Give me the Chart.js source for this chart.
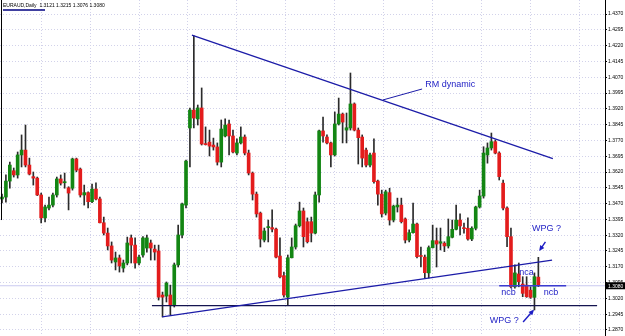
<!DOCTYPE html>
<html lang="en">
<head>
<meta charset="UTF-8">
<title>EURAUD,Daily</title>
<script src="https://cdn.jsdelivr.net/npm/chart.js"></script>
<style>
  html, body { margin: 0; padding: 0; background: #fff; }
  canvas { display: block; }
</style>
</head>
<body>
<canvas id="chart" width="625" height="336"></canvas>
<script>
// daily candles (index 0 = leftmost bar)
const opens = [1.3492,1.3501,1.3577,1.3626,1.3606,1.3701,1.3724,1.3653,1.3598,1.3591,
  1.3511,1.3402,1.3449,1.3463,1.3511,1.3587,1.3569,1.3545,1.3543,1.3682,
  1.3634,1.3511,1.3522,1.3479,1.3539,1.3492,1.3379,1.3330,1.3269,1.3193,
  1.3212,1.3164,1.3188,1.3307,1.3273,1.3188,1.3226,1.3259,1.3283,1.3254,
  1.3245,1.3036,1.3031,1.3036,1.2989,1.3179,1.3321,1.3463,1.3829,1.3914,
  1.3872,1.3924,1.3753,1.3762,1.3748,1.3739,1.3667,1.3791,1.3848,1.3791,
  1.3710,1.3758,1.3786,1.3710,1.3615,1.3515,1.3425,1.3297,1.3356,1.3356,
  1.3349,1.3221,1.3128,1.3026,1.3213,1.3264,1.3365,1.3435,1.3384,1.3384,
  1.3330,1.3511,1.3815,1.3786,1.3758,1.3701,1.3848,1.3895,1.3819,1.3829,
  1.3943,1.3819,1.3786,1.3724,1.3653,1.3710,1.3577,1.3515,1.3425,1.3522,
  1.3392,1.3454,1.3463,1.3397,1.3297,1.3332,1.3373,1.3221,1.3216,1.3141,
  1.3261,1.3294,1.3282,1.3282,1.3269,1.3310,1.3348,1.3392,1.3353,1.3353,
  1.3302,1.3353,1.3454,1.3506,1.3701,1.3734,1.3764,1.3710,1.3567,1.3449,
  1.3313,1.3075,1.3136,1.3088,1.3083,1.3059,1.3025,1.3121];
const highs = [1.3515,1.3606,1.3667,1.3639,1.3715,1.3796,1.3843,1.3686,1.3620,1.3596,
  1.3520,1.3463,1.3501,1.3520,1.3596,1.3606,1.3615,1.3550,1.3686,1.3686,
  1.3639,1.3558,1.3526,1.3563,1.3569,1.3501,1.3406,1.3354,1.3288,1.3240,
  1.3226,1.3202,1.3311,1.3321,1.3307,1.3226,1.3313,1.3321,1.3297,1.3273,
  1.3273,1.3050,1.3098,1.3083,1.3188,1.3368,1.3473,1.3677,1.3924,1.4267,
  1.3938,1.4019,1.3834,1.3819,1.3781,1.3758,1.3867,1.3872,1.3867,1.3819,
  1.3777,1.3834,1.3796,1.3724,1.3620,1.3525,1.3430,1.3354,1.3392,1.3440,
  1.3354,1.3307,1.3145,1.3226,1.3307,1.3373,1.3477,1.3449,1.3402,1.3406,
  1.3525,1.3819,1.3881,1.3796,1.3762,1.3905,1.3971,1.3900,1.3900,1.4090,
  1.3948,1.3829,1.3796,1.3734,1.3710,1.3777,1.3582,1.3534,1.3534,1.3543,
  1.3463,1.3496,1.3496,1.3402,1.3345,1.3473,1.3378,1.3264,1.3226,1.3269,
  1.3368,1.3354,1.3354,1.3289,1.3397,1.3392,1.3463,1.3421,1.3378,1.3402,
  1.3360,1.3458,1.3534,1.3740,1.3758,1.3805,1.3772,1.3716,1.3582,1.3455,
  1.3354,1.3179,1.3188,1.3123,1.3123,1.3075,1.3141,1.3215];
const lows = [1.3473,1.3477,1.3543,1.3596,1.3591,1.3644,1.3644,1.3606,1.3558,1.3508,
  1.3378,1.3383,1.3440,1.3454,1.3501,1.3558,1.3543,1.3440,1.3534,1.3621,
  1.3501,1.3463,1.3449,1.3474,1.3487,1.3378,1.3321,1.3250,1.3188,1.3155,
  1.3145,1.3145,1.3179,1.3188,1.3164,1.3179,1.3216,1.3240,1.3202,1.3202,
  1.3012,1.2932,1.3003,1.2941,1.2979,1.3169,1.3307,1.3449,1.3644,1.3829,
  1.3843,1.3748,1.3748,1.3696,1.3724,1.3653,1.3644,1.3786,1.3701,1.3710,
  1.3701,1.3753,1.3701,1.3606,1.3487,1.3406,1.3264,1.3288,1.3288,1.3335,
  1.3212,1.3117,1.3026,1.2989,1.3212,1.3254,1.3359,1.3264,1.3283,1.3288,
  1.3326,1.3477,1.3762,1.3753,1.3644,1.3696,1.3843,1.3758,1.3758,1.3819,
  1.3815,1.3658,1.3644,1.3644,1.3644,1.3567,1.3463,1.3406,1.3416,1.3368,
  1.3383,1.3430,1.3378,1.3283,1.3288,1.3330,1.3212,1.3169,1.3117,1.3117,
  1.3259,1.3169,1.3250,1.3242,1.3259,1.3307,1.3345,1.3321,1.3330,1.3297,
  1.3294,1.3345,1.3449,1.3496,1.3662,1.3724,1.3706,1.3582,1.3440,1.3265,
  1.3070,1.3069,1.3075,1.3028,1.3025,1.3020,1.2965,1.3076];
const closes = [1.3501,1.3577,1.3653,1.3606,1.3701,1.3724,1.3653,1.3610,1.3591,1.3511,
  1.3402,1.3454,1.3463,1.3511,1.3587,1.3567,1.3574,1.3520,1.3682,1.3629,
  1.3511,1.3522,1.3479,1.3539,1.3492,1.3379,1.3330,1.3269,1.3202,1.3212,
  1.3174,1.3188,1.3283,1.3273,1.3188,1.3216,1.3307,1.3307,1.3259,1.3240,
  1.3026,1.3026,1.3093,1.2989,1.3179,1.3321,1.3468,1.3672,1.3914,1.3876,
  1.3924,1.3753,1.3750,1.3743,1.3739,1.3667,1.3824,1.3843,1.3791,1.3715,
  1.3758,1.3786,1.3710,1.3615,1.3515,1.3421,1.3302,1.3340,1.3359,1.3349,
  1.3216,1.3122,1.3036,1.3213,1.3264,1.3365,1.3435,1.3313,1.3289,1.3330,
  1.3511,1.3815,1.3791,1.3758,1.3701,1.3848,1.3895,1.3857,1.3830,1.3943,
  1.3819,1.3783,1.3686,1.3653,1.3701,1.3574,1.3515,1.3421,1.3526,1.3392,
  1.3458,1.3463,1.3384,1.3297,1.3332,1.3373,1.3218,1.3219,1.3142,1.3261,
  1.3294,1.3278,1.3289,1.3269,1.3313,1.3348,1.3392,1.3364,1.3351,1.3302,
  1.3353,1.3454,1.3506,1.3710,1.3734,1.3764,1.3710,1.3598,1.3449,1.3313,
  1.3075,1.3141,1.3099,1.3044,1.3028,1.3025,1.3123,1.3080];

const priceTicks = [1.4370,1.4295,1.4220,1.4145,1.4070,1.3995,1.3920,1.3845,1.3770,1.3695,
  1.3620,1.3545,1.3470,1.3395,1.3320,1.3245,1.3170,1.3095,1.3020,1.2945,1.2870];
const timeGrid = [3.75,16.25,28.75,41.25,53.75,66.25,78.75,91.25,103.75,116.25,128.75,141.25,153.75];

const lastPrice = 1.3080;
const title = 'EURAUD,Daily  1.3121 1.3215 1.3076 1.3080';

// hand-drawn objects, [bar index, price]
const rmLine = [[48.5, 1.4270], [140.7, 1.3684]];
const rmLink = [[97.3, 1.3962], [107.3, 1.4014]];
const upLine = [[40.9, 1.2932], [140.5, 1.3202]];
const supportLine = [[38.3, 1.2986], [152.0, 1.2986]];
const ncbLine = [[127.0, 1.3080], [144.1, 1.3080]];

const notes = [
  { text: 'RM dynamic', k: 108.1, p: 1.4033 },
  { text: 'WPG ?', k: 135.4, p: 1.3352 },
  { text: 'nca', k: 132.1, p: 1.3141 },
  { text: 'ncb', k: 127.5, p: 1.3048 },
  { text: 'ncb', k: 138.4, p: 1.3048 },
  { text: 'WPG ?', k: 124.6, p: 1.2917 }
];
const arrows = [
  { from: [138.8, 1.3288], to: [137.2, 1.3245] },
  { from: [133.1, 1.2908], to: [135.9, 1.2967] }
];

const xMin = -0.511, xMax = 154.02;
const yMin = 1.28415, yMax = 1.44365;

const BULL = '#138613', BEAR = '#e31c1c', WICK = '#2b2b2b', INK = '#1d1dc4';
const FONT = '"Liberation Sans", Arial, sans-serif';

const up = opens.map((o, i) => closes[i] >= o);
const bodies = opens.map((o, i) => ({ x: i, y: [o, closes[i]] }));
const wicks = lows.map((l, i) => ({ x: i, y: [l, highs[i]] }));
const pts = arr => arr.map(([x, y]) => ({ x, y }));

function lineSet(data, color, width, order) {
  return {
    type: 'line', data: pts(data), borderColor: color, borderWidth: width,
    pointRadius: 0, tension: 0, fill: false, order
  };
}

const overlay = {
  id: 'overlay',
  afterDraw(chart) {
    const { ctx, scales: { x, y } } = chart;
    const px = k => x.getPixelForValue(k);
    const py = p => y.getPixelForValue(p);
    ctx.save();

    ctx.font = '9px ' + FONT;
    ctx.fillStyle = INK;
    ctx.textBaseline = 'middle';
    notes.forEach(n => ctx.fillText(n.text, px(n.k), py(n.p)));

    ctx.strokeStyle = INK;
    ctx.lineWidth = 1.4;
    arrows.forEach(a => {
      const x1 = px(a.from[0]), y1 = py(a.from[1]);
      const x2 = px(a.to[0]), y2 = py(a.to[1]);
      const ang = Math.atan2(y2 - y1, x2 - x1);
      const c = Math.cos(ang), s = Math.sin(ang);
      ctx.beginPath();
      ctx.moveTo(x1, y1);
      ctx.lineTo(x2 - 3 * c, y2 - 3 * s);
      ctx.stroke();
      ctx.beginPath();
      ctx.moveTo(x2, y2);
      ctx.lineTo(x2 - 5.5 * c + 2.5 * s, y2 - 5.5 * s - 2.5 * c);
      ctx.lineTo(x2 - 5.5 * c - 2.5 * s, y2 - 5.5 * s + 2.5 * c);
      ctx.closePath();
      ctx.fill();
    });

    // chart caption, top left
    ctx.font = '5px ' + FONT;
    ctx.fillStyle = '#000';
    ctx.fillText(title, 3, 5.5);
    ctx.strokeStyle = '#000080';
    ctx.lineWidth = 1.5;
    ctx.beginPath();
    ctx.moveTo(3, 10);
    ctx.lineTo(45, 10);
    ctx.stroke();

    // left frame edge
    ctx.strokeStyle = '#000';
    ctx.lineWidth = 1;
    ctx.beginPath();
    ctx.moveTo(1.5, 0);
    ctx.lineTo(1.5, py(1.3392));
    ctx.stroke();

    // current price box on the axis
    const by = py(lastPrice);
    ctx.fillStyle = '#000';
    ctx.fillRect(x.right, by - 3.5, 20, 7);
    ctx.fillStyle = '#fff';
    ctx.fillText(lastPrice.toFixed(4), x.right + 3, by + 0.5);
    ctx.restore();
  }
};

new Chart(document.getElementById('chart'), {
  type: 'bar',
  data: {
    datasets: [
      lineSet(rmLine, '#1c1ca8', 1.3, 0),
      lineSet(rmLink, '#1c1ca8', 1, 0),
      lineSet(upLine, '#1c1ca8', 1.3, 0),
      lineSet(supportLine, '#141450', 1.3, 0),
      lineSet(ncbLine, '#3c3cd0', 1.5, 0),
      lineSet([[xMin, lastPrice], [xMax, lastPrice]], '#cacaf0', 1, 6),
      {
        type: 'bar', data: bodies, grouped: false, order: 2,
        backgroundColor: up.map(u => u ? BULL : BEAR),
        barThickness: 3, minBarLength: 1, borderWidth: 0
      },
      {
        type: 'bar', data: wicks, grouped: false, order: 3,
        backgroundColor: WICK, barThickness: 1, borderWidth: 0
      }
    ]
  },
  options: {
    responsive: false,
    devicePixelRatio: 1,
    animation: false,
    layout: { padding: 0, autoPadding: false },
    plugins: { legend: { display: false }, tooltip: { enabled: false } },
    scales: {
      x: {
        type: 'linear', min: xMin, max: xMax, offset: false,
        afterBuildTicks: s => { s.ticks = timeGrid.map(v => ({ value: v })); },
        afterFit: s => { s.height = 0; s.paddingLeft = 0; s.paddingRight = 0; },
        ticks: { display: false },
        grid: { color: '#d2d2ea', drawTicks: false },
        border: { display: false, dash: [1, 2] }
      },
      y: {
        type: 'linear', position: 'right', min: yMin, max: yMax,
        afterBuildTicks: s => { s.ticks = priceTicks.map(v => ({ value: v })); },
        afterFit: s => { s.width = 20; s.paddingTop = 0; s.paddingBottom = 0; },
        ticks: {
          autoSkip: false, padding: 1, color: '#000',
          font: { size: 5, family: FONT },
          callback: v => v.toFixed(4)
        },
        grid: { color: '#d2d2ea', tickColor: '#000', tickLength: 2, tickBorderDash: [] },
        border: { display: true, color: '#000', width: 1, dash: [1, 2] }
      }
    }
  },
  plugins: [overlay]
});
</script>
</body>
</html>
